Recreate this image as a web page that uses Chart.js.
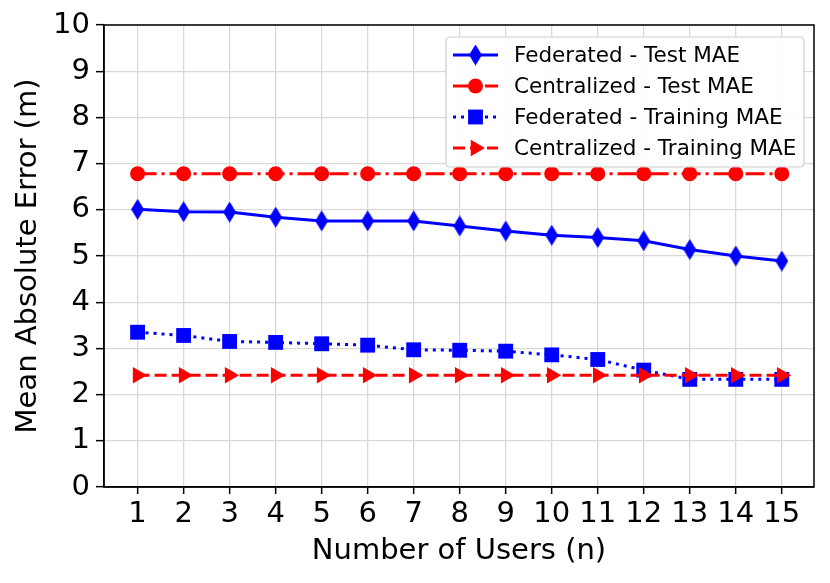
<!DOCTYPE html>
<html>
<head>
<meta charset="utf-8">
<script src="https://cdn.jsdelivr.net/npm/chart.js@4.4.1/dist/chart.umd.min.js"></script>
<style>
  html, body { margin: 0; padding: 0; background: #fff; }
  #wrap { width: 830px; height: 583px; }
</style>
</head>
<body>
<div id="wrap"><canvas id="myChart"></canvas></div>
<script>
const users = [1, 2, 3, 4, 5, 6, 7, 8, 9, 10, 11, 12, 13, 14, 15]
const yTicks = [0, 1, 2, 3, 4, 5, 6, 7, 8, 9, 10]

const fedTest = [6.01, 5.96, 5.95, 5.84, 5.76, 5.76, 5.76, 5.65, 5.54, 5.45, 5.40, 5.33, 5.14, 5.00, 4.89]
const centTest = [6.78, 6.78, 6.78, 6.78, 6.78, 6.78, 6.78, 6.78, 6.78, 6.78, 6.78, 6.78, 6.78, 6.78, 6.78]
const fedTrain = [3.35, 3.28, 3.15, 3.13, 3.10, 3.07, 2.97, 2.96, 2.94, 2.86, 2.76, 2.53, 2.33, 2.33, 2.33]
const centTrain = [2.42, 2.42, 2.42, 2.42, 2.42, 2.42, 2.42, 2.42, 2.42, 2.42, 2.42, 2.42, 2.42, 2.42, 2.42]

const seriesNames = ['Federated - Test MAE', 'Centralized - Test MAE', 'Federated - Training MAE', 'Centralized - Training MAE']

const FONT = "'DejaVu Sans', sans-serif"

// thin diamond like matplotlib 'd'
function thinDiamond(w, h, color) {
  const c = document.createElement('canvas')
  c.width = w; c.height = h
  const g = c.getContext('2d')
  g.fillStyle = color
  g.beginPath()
  g.moveTo(w / 2, 0)
  g.lineTo(w, h / 2)
  g.lineTo(w / 2, h)
  g.lineTo(0, h / 2)
  g.closePath()
  g.fill()
  return c
}
const diamond = thinDiamond(13, 21, '#0000ff')

function pts(arr) {
  return users.map((u, i) => ({ x: u, y: arr[i] }))
}

const styles = [
  { color: '#0000ff', dash: [], pointStyle: diamond, radius: 10, rot: 0 },
  { color: '#ff0000', dash: [19, 5, 3, 5], pointStyle: 'circle', radius: 7.5, rot: 0 },
  { color: '#0000ff', dash: [3, 5], pointStyle: 'rect', radius: 10.5, rot: 0 },
  { color: '#ff0000', dash: [12, 5], pointStyle: 'triangle', radius: 9.5, rot: 90 }
]
const allData = [fedTest, centTest, fedTrain, centTrain]

const datasets = allData.map((arr, i) => ({
  label: seriesNames[i],
  data: pts(arr),
  borderColor: styles[i].color,
  backgroundColor: styles[i].color,
  borderWidth: 3,
  borderDash: styles[i].dash,
  pointStyle: styles[i].pointStyle,
  pointRadius: styles[i].radius,
  pointHoverRadius: styles[i].radius,
  pointRotation: styles[i].rot,
  pointBorderWidth: 0,
  tension: 0,
  order: 3 - i
}))

// frame + legend box drawn like matplotlib
const framePlugin = {
  id: 'frame',
  afterDatasetsDraw(chart) {
    const { ctx, chartArea: a } = chart
    ctx.save()
    ctx.strokeStyle = '#000'
    ctx.lineWidth = 1.5
    ctx.strokeRect(a.left, a.top, a.right - a.left, a.bottom - a.top)

    // legend
    const bx = 446, by = 37, bw = 358, bh = 130
    ctx.fillStyle = 'rgba(255,255,255,0.92)'
    ctx.strokeStyle = '#cccccc'
    ctx.lineWidth = 1.2
    ctx.beginPath()
    ctx.roundRect(bx, by, bw, bh, 4)
    ctx.fill()
    ctx.stroke()

    const rows = [55, 86, 117, 148]
    ctx.font = '21.5px ' + FONT
    ctx.textBaseline = 'middle'
    rows.forEach((ry, i) => {
      const s = styles[i]
      ctx.strokeStyle = s.color
      ctx.lineWidth = 3
      ctx.setLineDash(s.dash)
      ctx.beginPath()
      ctx.moveTo(453, ry)
      ctx.lineTo(498, ry)
      ctx.stroke()
      ctx.setLineDash([])
      ctx.fillStyle = s.color
      Chart.helpers.drawPoint(ctx, { pointStyle: s.pointStyle, radius: s.radius, rotation: s.rot, borderWidth: 0 }, 475.5, ry)
      ctx.fillStyle = '#000'
      ctx.fillText(seriesNames[i], 514, ry + 1)
    })
    ctx.restore()
  }
}

const config = {
  type: 'line',
  data: { datasets: datasets },
  options: {
    responsive: true,
    maintainAspectRatio: false,
    animation: false,
    layout: { padding: { left: 0, top: 25, right: 16, bottom: 0 } },
    plugins: {
      legend: { display: false },
      tooltip: { enabled: false }
    },
    scales: {
      x: {
        type: 'linear',
        min: 0.27,
        max: 15.7,
        afterBuildTicks: axis => { axis.ticks = users.map(v => ({ value: v })) },
        afterFit: axis => { axis.height = 96 },
        grid: { color: '#d9d9d9', lineWidth: 1.3, tickColor: '#000', tickLength: 7, tickWidth: 1.5 },
        border: { color: '#000', width: 1.5 },
        ticks: { color: '#000', font: { family: FONT, size: 29 }, padding: 3, maxRotation: 0, autoSkip: false },
        title: { display: true, text: 'Number of Users (n)', color: '#000', font: { family: FONT, size: 29 }, padding: { top: 0, bottom: 14 } }
      },
      y: {
        min: 0,
        max: 10,
        afterBuildTicks: axis => { axis.ticks = yTicks.map(v => ({ value: v })) },
        afterFit: axis => { axis.width = 104 },
        grid: { color: '#d9d9d9', lineWidth: 1.3, tickColor: '#000', tickLength: 8, tickWidth: 1.5 },
        border: { color: '#000', width: 1.5 },
        ticks: { color: '#000', font: { family: FONT, size: 29 }, padding: 6 },
        title: { display: true, text: 'Mean Absolute Error (m)', color: '#000', font: { family: FONT, size: 29 }, padding: { top: 11, bottom: 0 } }
      }
    }
  },
  plugins: [framePlugin]
}

const ctx1 = document.getElementById('myChart')
new Chart(ctx1, config)
</script>
</body>
</html>
